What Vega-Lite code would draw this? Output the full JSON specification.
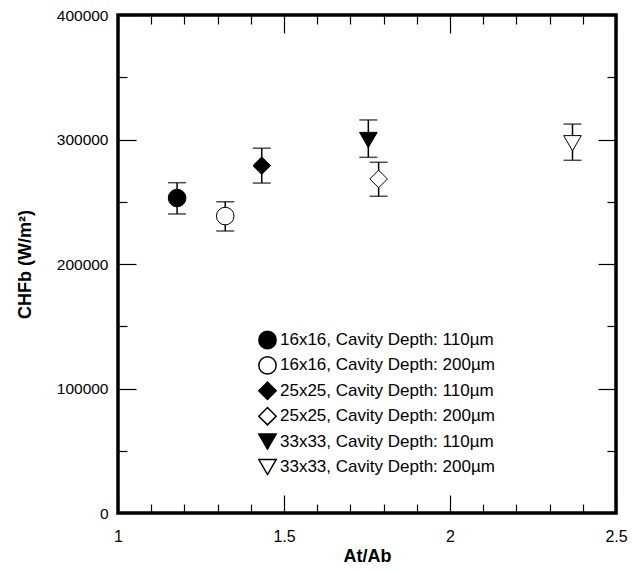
{
  "$schema": "https://vega.github.io/schema/vega-lite/v6.json",
  "width": 498,
  "height": 498,
  "autosize": {"type": "none"},
  "padding": {"left": 118, "top": 15, "right": 21, "bottom": 57},
  "background": "white",
  "config": {
    "font": "Liberation Sans",
    "view": {"stroke": "black", "strokeWidth": 3.5},
    "axis": {"grid": false, "domain": false, "tickColor": "black", "tickWidth": 1.2, "labelColor": "black", "titleColor": "black", "labelFlush": false, "labelOverlap": false}
  },
  "data": {
    "values": [
      {"series": "16x16, Cavity Depth: 110µm", "x": 1.178, "y": 253000, "lo": 240200, "hi": 265300},
      {"series": "16x16, Cavity Depth: 200µm", "x": 1.323, "y": 238500, "lo": 226500, "hi": 250000},
      {"series": "25x25, Cavity Depth: 110µm", "x": 1.433, "y": 279000, "lo": 265000, "hi": 293000},
      {"series": "25x25, Cavity Depth: 200µm", "x": 1.785, "y": 268300, "lo": 254400, "hi": 281700},
      {"series": "33x33, Cavity Depth: 110µm", "x": 1.754, "y": 299600, "lo": 285700, "hi": 315700},
      {"series": "33x33, Cavity Depth: 200µm", "x": 2.369, "y": 297000, "lo": 283300, "hi": 312400}
    ]
  },
  "resolve": {"axis": {"x": "independent", "y": "independent"}},
  "layer": [
    {
      "mark": {"type": "rule", "color": "black", "strokeWidth": 1.5},
      "encoding": {
        "x": {"field": "x", "type": "quantitative", "scale": {"domain": [1, 2.5], "nice": false, "zero": false},
          "axis": {"orient": "bottom", "values": [1, 1.5, 2, 2.5], "format": "~g", "tickSize": -18, "labelPadding": 33, "labelFontSize": 16, "title": "At/Ab", "titleFontSize": 18, "titleFontWeight": "bold", "titlePadding": 3}},
        "y": {"field": "lo", "type": "quantitative", "scale": {"domain": [0, 400000], "nice": false},
          "axis": {"orient": "left", "values": [0, 100000, 200000, 300000, 400000], "format": "d", "tickSize": -18, "labelPadding": 28, "labelFontSize": 15.5, "title": "CHFb (W/m²)", "titleFontSize": 18, "titleFontWeight": "bold", "titlePadding": 22}},
        "y2": {"field": "hi"}
      }
    },
    {
      "mark": {"type": "tick", "orient": "horizontal", "color": "black", "size": 18, "thickness": 1.5},
      "encoding": {
        "x": {"field": "x", "type": "quantitative",
          "axis": {"orient": "bottom", "values": [1.1, 1.2, 1.3, 1.4, 1.6, 1.7, 1.8, 1.9, 2.1, 2.2, 2.3, 2.4], "tickSize": -9, "labels": false, "title": null}},
        "y": {"field": "hi", "type": "quantitative",
          "axis": {"orient": "left", "values": [50000, 150000, 250000, 350000], "tickSize": -9, "labels": false, "title": null}}
      }
    },
    {
      "mark": {"type": "tick", "orient": "horizontal", "color": "black", "size": 18, "thickness": 1.5},
      "encoding": {
        "x": {"field": "x", "type": "quantitative",
          "axis": {"orient": "top", "values": [1, 1.5, 2, 2.5], "tickSize": -18, "labels": false, "title": null}},
        "y": {"field": "lo", "type": "quantitative",
          "axis": {"orient": "right", "values": [0, 100000, 200000, 300000, 400000], "tickSize": -18, "labels": false, "title": null}}
      }
    },
    {
      "mark": {"type": "point", "filled": true, "stroke": "black", "strokeWidth": 1, "size": 310, "opacity": 1},
      "encoding": {
        "x": {"field": "x", "type": "quantitative",
          "axis": {"orient": "top", "values": [1.1, 1.2, 1.3, 1.4, 1.6, 1.7, 1.8, 1.9, 2.1, 2.2, 2.3, 2.4], "tickSize": -9, "labels": false, "title": null}},
        "y": {"field": "y", "type": "quantitative",
          "axis": {"orient": "right", "values": [50000, 150000, 250000, 350000], "tickSize": -9, "labels": false, "title": null}},
        "shape": {"field": "series", "type": "nominal",
          "scale": {"domain": ["16x16, Cavity Depth: 110µm", "16x16, Cavity Depth: 200µm", "25x25, Cavity Depth: 110µm", "25x25, Cavity Depth: 200µm", "33x33, Cavity Depth: 110µm", "33x33, Cavity Depth: 200µm"],
            "range": ["circle", "circle", "diamond", "diamond", "triangle-down", "triangle-down"]},
          "legend": {"orient": "none", "legendX": 140, "legendY": 315, "title": null, "labelFontSize": 17, "labelColor": "black", "labelOffset": 3, "symbolSize": 300, "clipHeight": 20, "rowPadding": 5.4, "labelLimit": 400,
            "encode": {"symbols": {"update": {"stroke": {"value": "black"}, "strokeWidth": {"value": 1}}}}}},
        "fill": {"field": "series", "type": "nominal",
          "scale": {"domain": ["16x16, Cavity Depth: 110µm", "16x16, Cavity Depth: 200µm", "25x25, Cavity Depth: 110µm", "25x25, Cavity Depth: 200µm", "33x33, Cavity Depth: 110µm", "33x33, Cavity Depth: 200µm"],
            "range": ["black", "white", "black", "white", "black", "white"]},
          "legend": {"orient": "none", "legendX": 140, "legendY": 315, "title": null, "labelFontSize": 17, "labelColor": "black", "labelOffset": 3, "symbolSize": 300, "clipHeight": 20, "rowPadding": 5.4, "labelLimit": 400,
            "encode": {"symbols": {"update": {"stroke": {"value": "black"}, "strokeWidth": {"value": 1}}}}}}
      }
    }
  ]
}
